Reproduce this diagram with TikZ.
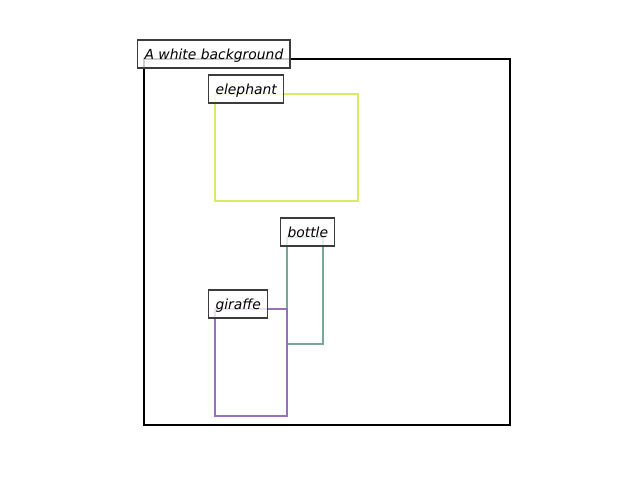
\documentclass[tikz,border=0pt]{standalone}
\usepackage{fontspec}
\setmainfont{DejaVu Sans}
\definecolor{elecol}{RGB}{214,238,98}
\definecolor{botcol}{RGB}{118,168,154}
\definecolor{gircol}{RGB}{152,114,182}
\definecolor{labedge}{RGB}{60,60,60}
\tikzset{
  region/.style={line width=2pt},
  lab/.style={anchor=base west, draw=labedge, line width=0.8pt, fill=white, fill opacity=0.8, text opacity=1,
    inner xsep=4.8pt, inner ysep=4.32pt, text height=9.36pt, text depth=2.16pt,
    font=\itshape\fontsize{10pt}{12pt}\selectfont}
}
\begin{document}
\begin{tikzpicture}[x=0.72pt,y=-0.72pt]
\useasboundingbox (0,0) rectangle (640,480);
\draw[line width=1.44pt] (144,59) rectangle (510,425);
\draw[region, elecol] (215,94) rectangle (358,201);
\draw[region, botcol] (287,237) rectangle (323,344);
\draw[region, gircol] (215,309) rectangle (287,416);
\node[lab] (lbg) at (137.3,59) {A white background};
\node[lab] (lel) at (208.3,94) {elephant};
\node[lab] (lbo) at (280.3,237) {bottle};
\node[lab] (lgi) at (208.3,309) {giraffe};
\end{tikzpicture}
\end{document}
